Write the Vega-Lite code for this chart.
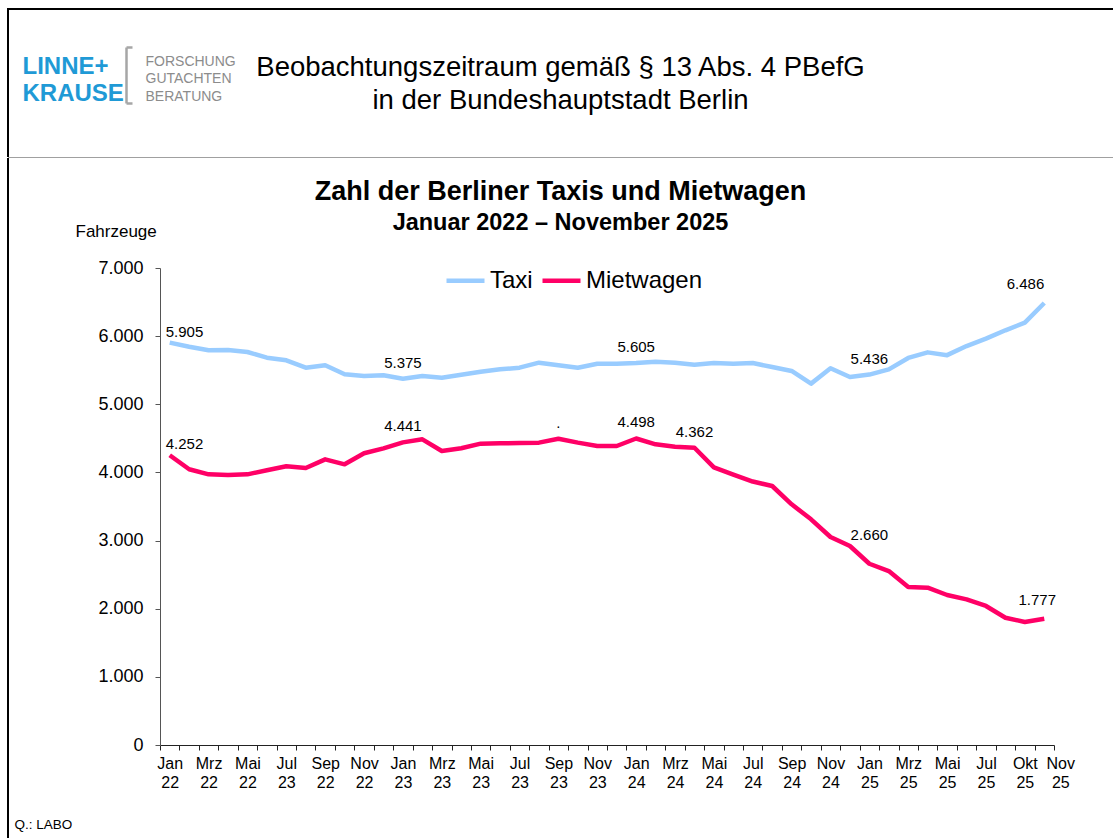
{
  "$schema": "https://vega.github.io/schema/vega-lite/v6.json",
  "background": "white",
  "padding": {"left": 7, "top": 8, "right": 0, "bottom": 0},
  "spacing": 0,
  "bounds": "flush",
  "config": {
    "font": "Liberation Sans",
    "axis": {"labelColor": "#000", "titleColor": "#000", "labelFont": "Liberation Sans", "titleFont": "Liberation Sans"},
    "title": {"color": "#000", "subtitleColor": "#000", "font": "Liberation Sans", "subtitleFont": "Liberation Sans"},
    "legend": {"labelColor": "#000", "labelFont": "Liberation Sans"}
  },
  "vconcat": [
    {
      "width": 1105,
      "height": 148,
      "view": {"stroke": "#000", "strokeWidth": 2, "strokeDash": [1105, 1253, 148]},
      "title": {
        "text": ["Beobachtungszeitraum gemäß § 13 Abs. 4 PBefG", "in der Bundeshauptstadt Berlin"],
        "fontSize": 27.5,
        "fontWeight": "normal",
        "lineHeight": 33,
        "anchor": "middle",
        "frame": "group",
        "offset": -105
      },
      "data": {"values": []},
      "mark": {"type": "point", "opacity": 0},
      "encoding": {
        "x": {
          "field": "a", "type": "quantitative",
          "scale": {"domain": [0, 1]},
          "axis": {
            "domain": false, "ticks": false, "labels": false, "grid": false,
            "title": ["LINNE+", "KRAUSE"],
            "titleColor": "#1f9ad6",
            "titleFont": "Liberation Sans Narrow, Liberation Sans",
            "titleFontSize": 24,
            "titleFontWeight": "bold",
            "titleAlign": "left",
            "titleAnchor": "start",
            "titleBaseline": "alphabetic",
            "titleLineHeight": 27,
            "titleX": 14,
            "titleY": -84
          }
        },
        "y": {
          "field": "b", "type": "quantitative",
          "scale": {"domain": [0, 1], "range": [94, 38]},
          "axis": {
            "orient": "left", "offset": -118,
            "domainColor": "#a6a6a6", "domainWidth": 2.5,
            "values": [0, 1],
            "tickSize": -6, "tickWidth": 2.5, "tickColor": "#a6a6a6",
            "labels": false, "grid": false,
            "title": ["FORSCHUNG", "GUTACHTEN", "BERATUNG"],
            "titleAngle": 0,
            "titleAlign": "left",
            "titleBaseline": "alphabetic",
            "titleX": 19,
            "titleY": 56,
            "titleFont": "Liberation Sans Narrow, Liberation Sans",
            "titleFontSize": 14,
            "titleFontWeight": "normal",
            "titleColor": "#8c8c8c",
            "titleLineHeight": 17.5
          }
        }
      }
    },
    {
      "width": 1105,
      "height": 1,
      "view": {"fill": "#a0a0a0", "stroke": null},
      "data": {"values": []},
      "mark": {"type": "point", "opacity": 0}
    },
    {
      "width": 1105,
      "height": 680,
      "view": {"stroke": "#000", "strokeWidth": 2, "strokeDash": [0, 2890, 680]},
      "title": {
        "text": "Zahl der Berliner Taxis und Mietwagen",
        "subtitle": "Januar 2022 – November 2025",
        "fontSize": 27,
        "fontWeight": "bold",
        "subtitleFontSize": 23.5,
        "subtitleFontWeight": "bold",
        "subtitlePadding": 5,
        "anchor": "middle",
        "frame": "group",
        "offset": -77
      },
      "data": {"values": [
        {"m":"Jan 22","s":"Taxi","v":5905,"lab":"5.905"},
        {"m":"Feb 22","s":"Taxi","v":5845},
        {"m":"Mrz 22","s":"Taxi","v":5792},
        {"m":"Apr 22","s":"Taxi","v":5797},
        {"m":"Mai 22","s":"Taxi","v":5767},
        {"m":"Jun 22","s":"Taxi","v":5684},
        {"m":"Jul 22","s":"Taxi","v":5645},
        {"m":"Aug 22","s":"Taxi","v":5537},
        {"m":"Sep 22","s":"Taxi","v":5572},
        {"m":"Okt 22","s":"Taxi","v":5440},
        {"m":"Nov 22","s":"Taxi","v":5415},
        {"m":"Dez 22","s":"Taxi","v":5425},
        {"m":"Jan 23","s":"Taxi","v":5375,"lab":"5.375"},
        {"m":"Feb 23","s":"Taxi","v":5415},
        {"m":"Mrz 23","s":"Taxi","v":5390},
        {"m":"Apr 23","s":"Taxi","v":5432},
        {"m":"Mai 23","s":"Taxi","v":5478},
        {"m":"Jun 23","s":"Taxi","v":5513},
        {"m":"Jul 23","s":"Taxi","v":5537},
        {"m":"Aug 23","s":"Taxi","v":5611},
        {"m":"Sep 23","s":"Taxi","v":5572},
        {"m":"Okt 23","s":"Taxi","v":5537},
        {"m":"Nov 23","s":"Taxi","v":5596},
        {"m":"Dez 23","s":"Taxi","v":5596},
        {"m":"Jan 24","s":"Taxi","v":5605,"lab":"5.605"},
        {"m":"Feb 24","s":"Taxi","v":5625},
        {"m":"Mrz 24","s":"Taxi","v":5611},
        {"m":"Apr 24","s":"Taxi","v":5581},
        {"m":"Mai 24","s":"Taxi","v":5605},
        {"m":"Jun 24","s":"Taxi","v":5595},
        {"m":"Jul 24","s":"Taxi","v":5605},
        {"m":"Aug 24","s":"Taxi","v":5547},
        {"m":"Sep 24","s":"Taxi","v":5489},
        {"m":"Okt 24","s":"Taxi","v":5303},
        {"m":"Nov 24","s":"Taxi","v":5528},
        {"m":"Dez 24","s":"Taxi","v":5400},
        {"m":"Jan 25","s":"Taxi","v":5436,"lab":"5.436"},
        {"m":"Feb 25","s":"Taxi","v":5513},
        {"m":"Mrz 25","s":"Taxi","v":5680},
        {"m":"Apr 25","s":"Taxi","v":5762},
        {"m":"Mai 25","s":"Taxi","v":5721},
        {"m":"Jun 25","s":"Taxi","v":5855},
        {"m":"Jul 25","s":"Taxi","v":5963},
        {"m":"Aug 25","s":"Taxi","v":6086},
        {"m":"Okt 25","s":"Taxi","v":6198},
        {"m":"Nov 25","s":"Taxi","v":6486,"lab":"6.486"},
        {"m":"Jan 22","s":"Mietwagen","v":4252,"lab":"4.252"},
        {"m":"Feb 22","s":"Mietwagen","v":4046},
        {"m":"Mrz 22","s":"Mietwagen","v":3972},
        {"m":"Apr 22","s":"Mietwagen","v":3962},
        {"m":"Mai 22","s":"Mietwagen","v":3972},
        {"m":"Jun 22","s":"Mietwagen","v":4031},
        {"m":"Jul 22","s":"Mietwagen","v":4090},
        {"m":"Aug 22","s":"Mietwagen","v":4065},
        {"m":"Sep 22","s":"Mietwagen","v":4192},
        {"m":"Okt 22","s":"Mietwagen","v":4119},
        {"m":"Nov 22","s":"Mietwagen","v":4281},
        {"m":"Dez 22","s":"Mietwagen","v":4354},
        {"m":"Jan 23","s":"Mietwagen","v":4441,"lab":"4.441"},
        {"m":"Feb 23","s":"Mietwagen","v":4486},
        {"m":"Mrz 23","s":"Mietwagen","v":4314},
        {"m":"Apr 23","s":"Mietwagen","v":4354},
        {"m":"Mai 23","s":"Mietwagen","v":4422},
        {"m":"Jun 23","s":"Mietwagen","v":4427},
        {"m":"Jul 23","s":"Mietwagen","v":4432},
        {"m":"Aug 23","s":"Mietwagen","v":4437},
        {"m":"Sep 23","s":"Mietwagen","v":4495,"lab":"."},
        {"m":"Okt 23","s":"Mietwagen","v":4437},
        {"m":"Nov 23","s":"Mietwagen","v":4388},
        {"m":"Dez 23","s":"Mietwagen","v":4388},
        {"m":"Jan 24","s":"Mietwagen","v":4498,"lab":"4.498"},
        {"m":"Feb 24","s":"Mietwagen","v":4412},
        {"m":"Mrz 24","s":"Mietwagen","v":4378},
        {"m":"Apr 24","s":"Mietwagen","v":4362,"lab":"4.362"},
        {"m":"Mai 24","s":"Mietwagen","v":4075},
        {"m":"Jun 24","s":"Mietwagen","v":3967},
        {"m":"Jul 24","s":"Mietwagen","v":3866},
        {"m":"Aug 24","s":"Mietwagen","v":3801},
        {"m":"Sep 24","s":"Mietwagen","v":3532},
        {"m":"Okt 24","s":"Mietwagen","v":3312},
        {"m":"Nov 24","s":"Mietwagen","v":3052},
        {"m":"Dez 24","s":"Mietwagen","v":2920},
        {"m":"Jan 25","s":"Mietwagen","v":2660,"lab":"2.660"},
        {"m":"Feb 25","s":"Mietwagen","v":2553},
        {"m":"Mrz 25","s":"Mietwagen","v":2318},
        {"m":"Apr 25","s":"Mietwagen","v":2309},
        {"m":"Mai 25","s":"Mietwagen","v":2201},
        {"m":"Jun 25","s":"Mietwagen","v":2137},
        {"m":"Jul 25","s":"Mietwagen","v":2040},
        {"m":"Aug 25","s":"Mietwagen","v":1868},
        {"m":"Okt 25","s":"Mietwagen","v":1805},
        {"m":"Nov 25","s":"Mietwagen","v":1854,"lab":"1.777"}
      ]},
      "encoding": {
        "x": {
          "field": "m", "type": "ordinal", "sort": null, "bandPosition": 0.5,
          "scale": {"type": "band", "range": [152, 1046], "paddingInner": 0, "paddingOuter": 0},
          "axis": {
            "orient": "bottom", "offset": -93,
            "tickBand": "extent", "tickSize": 5, "tickColor": "#222", "domainColor": "#222",
            "labelFontSize": 16, "labelPadding": 5, "labelLineHeight": 19,
            "labelBaseline": "top", "labelAngle": 0, "labelOverlap": false,
            "labelExpr": "(substring(datum.value, 0, 3) == 'Jan' || substring(datum.value, 0, 3) == 'Mrz' || substring(datum.value, 0, 3) == 'Mai' || substring(datum.value, 0, 3) == 'Jul' || substring(datum.value, 0, 3) == 'Sep' || substring(datum.value, 0, 3) == 'Nov' || datum.value == 'Okt 25') ? (datum.value == 'Jul 22' ? ['Jul', '23'] : split(datum.value, ' ')) : ''",
            "labelOffset": {"condition": {"test": "datum.value == 'Nov 25'", "value": 16}, "value": 0},
            "grid": false,
            "title": "Q.: LABO",
            "titleFontSize": 13.5, "titleFontWeight": "normal",
            "titleAlign": "left", "titleAnchor": "start", "titleBaseline": "alphabetic",
            "titleX": 6, "titleY": 83
          }
        },
        "y": {
          "field": "v", "type": "quantitative",
          "scale": {"domain": [0, 7000], "range": [587, 110], "nice": false},
          "axis": {
            "orient": "left", "offset": -152,
            "values": [0, 1000, 2000, 3000, 4000, 5000, 6000, 7000],
            "tickSize": 5, "tickColor": "#555", "domainColor": "#555",
            "labelFontSize": 18, "labelPadding": 12,
            "labelExpr": "replace(format(datum.value, ','), ',', '.')",
            "grid": false,
            "title": "Fahrzeuge",
            "titleAngle": 0, "titleAlign": "left", "titleBaseline": "alphabetic",
            "titleX": -85, "titleY": 78,
            "titleFontSize": 17, "titleFontWeight": "normal"
          }
        }
      },
      "layer": [
        {
          "mark": {"type": "line", "strokeWidth": 4.5, "strokeJoin": "round"},
          "encoding": {
            "order": {"value": null},
            "color": {
              "field": "s", "type": "nominal",
              "scale": {"domain": ["Taxi", "Mietwagen"], "range": ["#99CCFF", "#FF0066"]},
              "legend": {
                "orient": "none", "legendX": 436, "legendY": 250,
                "direction": "horizontal", "title": null,
                "labelFontSize": 24, "labelLimit": 300,
                "symbolType": "stroke", "symbolStrokeWidth": 4.5, "symbolSize": 1444,
                "labelOffset": 3, "columnPadding": 0, "padding": 0
              }
            }
          }
        },
        {
          "transform": [{"filter": "datum.lab && datum.m == 'Jan 22'"}],
          "mark": {"type": "text", "align": "left", "baseline": "alphabetic", "dx": -4, "dy": -6, "fontSize": 15, "color": "#000"},
          "encoding": {"text": {"field": "lab"}}
        },
        {
          "transform": [{"filter": "datum.lab && datum.m != 'Jan 22' && datum.m != 'Nov 25' && !(datum.m == 'Jan 25' && datum.s == 'Mietwagen')"}],
          "mark": {"type": "text", "align": "center", "baseline": "alphabetic", "dy": -11, "fontSize": 15, "color": "#000"},
          "encoding": {"text": {"field": "lab"}}
        },
        {
          "transform": [{"filter": "datum.lab && datum.m == 'Jan 25' && datum.s == 'Mietwagen'"}],
          "mark": {"type": "text", "align": "center", "baseline": "alphabetic", "dy": -24, "fontSize": 15, "color": "#000"},
          "encoding": {"text": {"field": "lab"}}
        },
        {
          "transform": [{"filter": "datum.lab && datum.m == 'Nov 25' && datum.s == 'Taxi'"}],
          "mark": {"type": "text", "align": "right", "baseline": "alphabetic", "dy": -14, "fontSize": 15, "color": "#000"},
          "encoding": {"text": {"field": "lab"}}
        },
        {
          "transform": [{"filter": "datum.lab && datum.m == 'Nov 25' && datum.s == 'Mietwagen'"}],
          "mark": {"type": "text", "align": "center", "baseline": "alphabetic", "dx": -7, "dy": -14, "fontSize": 15, "color": "#000"},
          "encoding": {"text": {"field": "lab"}}
        }
      ]
    }
  ]
}
